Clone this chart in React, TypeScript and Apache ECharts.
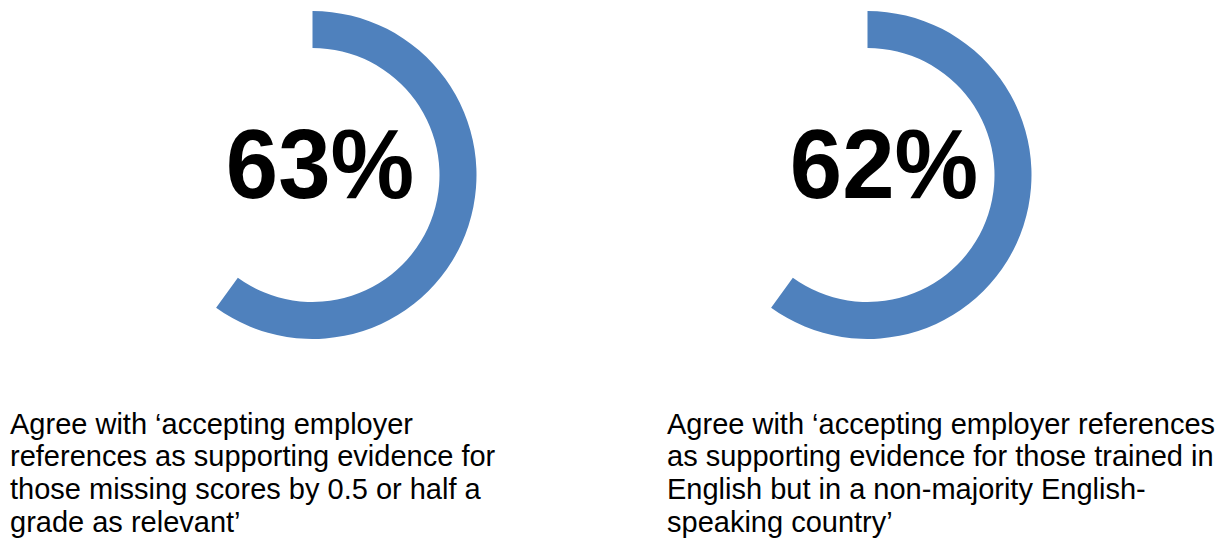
import React, { useEffect, useRef } from "react";
import * as echarts from "echarts";

// Values printed in the centre of each ring
const percentValues = [63, 62];
// Share of the ring that is drawn (both arcs sweep ~216°)
const ringFill = [60, 60];
// Caption lines under each ring
const captions = [
  [
    "Agree with \u2018accepting employer",
    "references as supporting evidence for",
    "those missing scores by 0.5 or half a",
    "grade as relevant\u2019",
  ],
  [
    "Agree with \u2018accepting employer references",
    "as supporting evidence for those trained in",
    "English but in a non-majority English-",
    "speaking country\u2019",
  ],
];

const BLUE = "#4F81BD";
const FONT = "'Liberation Sans', Arial, Helvetica, sans-serif";

export default function App() {
  const ref = useRef<HTMLDivElement>(null);

  useEffect(() => {
    if (!ref.current) return;
    const chart = echarts.init(ref.current, undefined, { renderer: "svg" });

    const centersX = [312.5, 867.5];
    const centerY = 175;
    const numberX = [320, 884];
    const captionX = [10, 667];
    const captionY0 = 423.5;
    const lineGap = 32.7;

    const series = ringFill.map((v, i) => ({
      type: "pie",
      center: [centersX[i], centerY],
      radius: [127, 164],
      startAngle: 90,
      clockwise: true,
      silent: true,
      label: { show: false },
      labelLine: { show: false },
      emphasis: { disabled: true },
      itemStyle: { borderWidth: 0 },
      data: [
        { value: v, name: "filled", itemStyle: { color: BLUE } },
        { value: 100 - v, name: "rest", itemStyle: { color: "rgba(0,0,0,0)" } },
      ],
    }));

    const graphics: any[] = [];
    percentValues.forEach((p, i) => {
      graphics.push({
        type: "text",
        x: numberX[i],
        y: 164,
        style: {
          text: `${p}%`,
          fontSize: 98,
          fontWeight: "bold",
          fontFamily: FONT,
          fill: "#000",
          align: "center",
          verticalAlign: "middle",
        },
        scaleX: 0.96,
        originX: 0,
      });
      captions[i].forEach((line, j) => {
        graphics.push({
          type: "text",
          x: captionX[i],
          y: captionY0 + j * lineGap,
          style: {
            text: line,
            fontSize: 29,
            fontFamily: FONT,
            fill: "#000",
            align: "left",
            verticalAlign: "middle",
          },
        });
      });
    });

    chart.setOption({
      animation: false,
      backgroundColor: "#ffffff",
      series,
      graphic: { elements: graphics },
    });

    return () => chart.dispose();
  }, []);

  return (
    <div
      ref={ref}
      style={{ position: "fixed", left: 0, top: 0, width: 1232, height: 542 }}
    />
  );
}
